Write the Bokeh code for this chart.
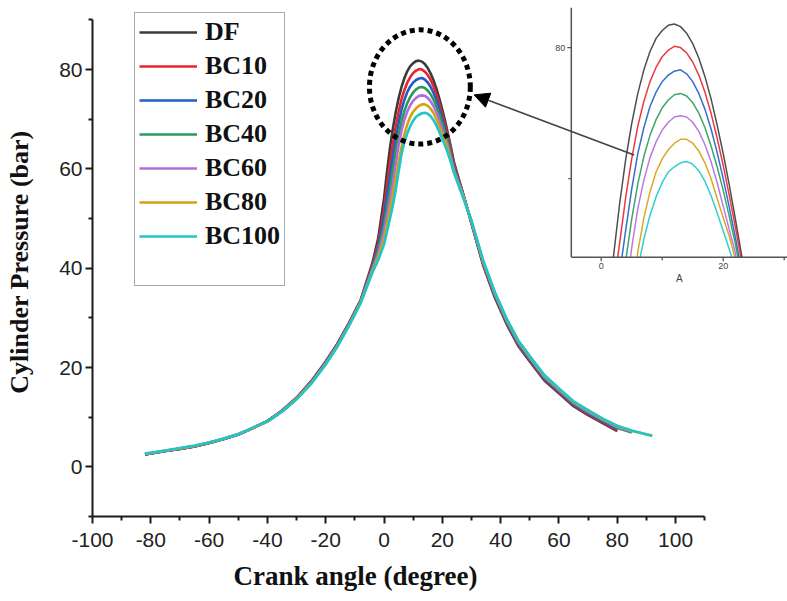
import numpy as np
from bokeh.plotting import figure
from bokeh.models import (Range1d, FixedTicker, Legend, LegendItem, Arrow,
                          NormalHead, Title)
from bokeh.core.properties import value
from bokeh.embed import file_html
from bokeh.resources import INLINE

# Crank angle grid (degrees), shared by all fuels
ANGLE = ([-82, -75, -70, -65, -60, -55, -50, -45, -40, -35, -30, -25, -20, -16, -12, -8, -4, -2]
         + list(range(0, 25))
         + [27, 30, 34, 38, 42, 46, 50, 55, 60, 65, 70, 75, 80, 85, 92])

NAMES = ["DF", "BC10", "BC20", "BC40", "BC60", "BC80", "BC100"]

# Cylinder pressure (bar) per fuel
DF = [2.5, 3.2, 3.6, 4.1, 4.8, 5.6, 6.5, 7.8, 9.2, 11.3, 13.9, 17.2, 21.2, 24.8, 29.0, 33.6, 41.0, 46.0,
      54.0, 59.3, 64.0, 68.0, 71.4, 74.2, 76.5, 78.3, 79.7, 80.7, 81.3, 81.7, 81.8, 81.6, 81.1, 80.3,
      79.2, 77.8, 76.1, 74.1, 71.9, 69.5, 66.9, 64.2, 61.3,
      55.2, 49.0, 40.6, 34.1, 28.8, 24.4, 21.2, 17.4, 14.8, 12.2, 10.4, 8.8, 7.2]
BC10 = [2.5, 3.2, 3.6, 4.1, 4.8, 5.6, 6.5, 7.8, 9.2, 11.3, 13.9, 17.2, 21.1, 24.7, 28.9, 33.5, 40.6, 45.0,
        52.0, 56.5, 61.0, 65.0, 68.5, 71.5, 74.0, 75.9, 77.4, 78.5, 79.3, 79.8, 80.1, 80.0, 79.6, 78.9,
        77.9, 76.6, 75.0, 73.1, 71.0, 68.7, 66.3, 63.7, 60.9,
        55.2, 49.1, 40.8, 34.3, 29.0, 24.6, 21.4, 17.6, 15.0, 12.4, 10.6, 9.0, 7.4]
BC20 = [2.5, 3.2, 3.6, 4.1, 4.8, 5.6, 6.5, 7.8, 9.2, 11.3, 13.8, 17.1, 21.0, 24.6, 28.8, 33.4, 40.3, 44.2,
        50.3, 54.3, 58.3, 62.3, 66.0, 69.2, 71.9, 73.9, 75.5, 76.6, 77.4, 77.9, 78.2, 78.3, 78.0, 77.4,
        76.5, 75.3, 73.8, 72.0, 70.0, 67.8, 65.5, 63.0, 60.4,
        55.1, 49.2, 41.0, 34.5, 29.2, 24.8, 21.6, 17.8, 15.2, 12.6, 10.8, 9.2, 7.6]
BC40 = [2.6, 3.2, 3.7, 4.2, 4.8, 5.6, 6.5, 7.8, 9.2, 11.2, 13.8, 17.0, 20.9, 24.5, 28.7, 33.3, 40.0, 43.5,
        48.7, 52.2, 55.8, 59.7, 63.6, 66.9, 69.6, 71.7, 73.3, 74.5, 75.4, 76.0, 76.4, 76.5, 76.3, 75.8,
        75.0, 73.9, 72.5, 70.9, 69.1, 67.1, 65.0, 62.6, 60.0,
        55.0, 49.3, 41.2, 34.7, 29.4, 25.0, 21.8, 18.0, 15.4, 12.8, 11.0, 9.4, 7.8, 6.9]
BC60 = [2.6, 3.2, 3.7, 4.2, 4.9, 5.6, 6.5, 7.8, 9.1, 11.2, 13.7, 16.9, 20.8, 24.4, 28.6, 33.2, 39.7, 42.8,
        47.3, 50.4, 53.6, 57.0, 60.8, 64.7, 67.7, 69.9, 71.6, 72.8, 73.7, 74.3, 74.7, 74.8, 74.7, 74.3,
        73.6, 72.6, 71.3, 69.7, 67.9, 66.1, 64.3, 61.9, 59.6,
        54.9, 49.4, 41.3, 34.9, 29.6, 25.2, 22.0, 18.2, 15.5, 13.0, 11.1, 9.5, 8.0, 7.1]
BC80 = [2.6, 3.3, 3.7, 4.2, 4.9, 5.7, 6.6, 7.8, 9.1, 11.1, 13.7, 16.8, 20.7, 24.3, 28.5, 33.1, 39.4, 42.2,
        46.0, 48.8, 51.7, 54.8, 58.0, 61.4, 64.4, 67.0, 69.0, 70.5, 71.5, 72.2, 72.7, 73.0, 73.0, 72.7,
        72.1, 71.2, 70.0, 68.5, 67.0, 65.6, 63.8, 61.6, 59.3,
        54.7, 49.5, 41.4, 35.1, 29.8, 25.4, 22.2, 18.4, 15.7, 13.1, 11.3, 9.6, 8.2, 7.2, 6.3]
BC100 = [2.7, 3.3, 3.8, 4.3, 4.9, 5.7, 6.6, 7.9, 9.1, 11.1, 13.6, 16.7, 20.6, 24.2, 28.4, 33.0, 39.1, 41.6,
         44.8, 47.3, 49.9, 52.6, 55.7, 59.4, 63.0, 65.4, 67.2, 68.6, 69.7, 70.5, 70.9, 71.2, 71.3, 71.1,
         70.6, 69.8, 68.7, 67.4, 66.0, 64.6, 63.0, 61.2, 59.2,
         54.4, 49.6, 41.6, 35.2, 29.9, 25.5, 22.3, 18.5, 15.8, 13.2, 11.4, 9.7, 8.3, 7.3, 6.2]
SERIES = [DF, BC10, BC20, BC40, BC60, BC80, BC100]

COLORS = ["#3b3b3b", "#e8242c", "#1f5fc4", "#2a9a5a", "#b36be0", "#d4a10f", "#1ec6c9"]

# Main axis ticks
X_TICKS = [-100, -80, -60, -40, -20, 0, 20, 40, 60, 80, 100]
X_TICK_LABELS = ["-100", "-80", "-60", "-40", "-20", "0", "20", "40", "60", "80", "100"]
X_MINOR = [-90, -70, -50, -30, -10, 10, 30, 50, 70, 90, 110]
Y_TICKS = [0, 20, 40, 60, 80]
Y_TICK_LABELS = ["0", "20", "40", "60", "80"]
Y_MINOR = [-10, 10, 30, 50, 70, 90]

# Zoomed inset: its floor pressure and where each curve crosses it
INSET_FLOOR = 64.0
INSET_RISE_AT = [2.0, 2.7, 3.4, 4.1, 4.8, 5.9, 6.4]
INSET_FALL_AT = [23.1, 22.9, 22.6, 22.4, 22.1, 21.9, 21.4]
INSET_X_TICKS = [0, 20]
INSET_X_TICK_LABELS = ["0", "20"]
INSET_X_MINOR = [10, 30]
INSET_Y_TICKS = [80]
INSET_Y_TICK_LABELS = ["80"]
INSET_Y_MINOR = [70]
INSET_X_TITLE = "A"

# ---- layout constants (pixels / data extents) ----
FRAME_LEFT, FRAME_TOP, FRAME_BOTTOM = 92, 7, 85
W, H = 787, 601
X_RANGE = (-100, 138.4)
Y_RANGE = (-10, 92.5)
INSET_X_RANGE = (-83.39, 30.54)
INSET_Y_RANGE = (44.2, 83.06)
INSET_AXIS_U = -4.9

p = figure(width=W, height=H, x_range=Range1d(*X_RANGE), y_range=Range1d(*Y_RANGE),
           output_backend="svg", toolbar_location=None,
           min_border_left=FRAME_LEFT, min_border_right=0,
           min_border_top=FRAME_TOP, min_border_bottom=FRAME_BOTTOM)
p.title.visible = False
p.outline_line_color = None
p.xgrid.visible = False
p.ygrid.visible = False
p.background_fill_color = "white"
p.border_fill_color = "white"

AXIS_COLOR = "#1a1a1a"
for ax in (p.xaxis[0], p.yaxis[0]):
    ax.axis_line_width = 2
    ax.axis_line_color = AXIS_COLOR
    ax.major_tick_line_width = 2
    ax.minor_tick_line_width = 2
    ax.major_tick_line_color = AXIS_COLOR
    ax.minor_tick_line_color = AXIS_COLOR
    ax.major_tick_in = 0
    ax.minor_tick_in = 0
    ax.major_tick_out = 7
    ax.minor_tick_out = 4
    ax.major_label_text_font = "Liberation Sans"
    ax.major_label_text_font_size = "21px"
    ax.major_label_text_color = "#222222"

p.xaxis.ticker = FixedTicker(ticks=X_TICKS, minor_ticks=X_MINOR)
p.xaxis.major_label_overrides = dict(zip(X_TICKS, X_TICK_LABELS))
p.xaxis.bounds = (-100, 110)
p.xaxis.major_label_standoff = 9

p.yaxis.ticker = FixedTicker(ticks=Y_TICKS, minor_ticks=Y_MINOR)
p.yaxis.major_label_overrides = dict(zip(Y_TICKS, Y_TICK_LABELS))
p.yaxis.bounds = (-10, 90)
p.yaxis.major_label_standoff = 3
p.yaxis.axis_label = "Cylinder Pressure (bar)"
p.yaxis.axis_label_text_font = "Liberation Serif"
p.yaxis.axis_label_text_font_style = "bold"
p.yaxis.axis_label_text_font_size = "26px"
p.yaxis.axis_label_text_color = "#111111"
p.yaxis.axis_label_standoff = 22

x_title = Title(text="Crank angle (degree)", align="left", offset=141, standoff=19,
                text_font="Liberation Serif", text_font_style="bold",
                text_font_size="27px", text_color="#111111")
p.add_layout(x_title, "below")

# ---- main pressure traces ----
renderers = []
for name, vals, col in zip(NAMES, SERIES, COLORS):
    r = p.line(ANGLE[:len(vals)], vals, line_color=col, line_width=2.6, line_join="round")
    renderers.append(r)

# highlight around the peak
PEAK_FOCUS = (12.3, 76.5)
p.ellipse(x=[PEAK_FOCUS[0]], y=[PEAK_FOCUS[1]], width=34.6, height=23.0,
          fill_alpha=0, line_color="black", line_width=5, line_dash="5 4")

p.add_layout(Arrow(end=NormalHead(size=15, fill_color="black", line_color="black"),
                   x_start=85.8, y_start=62.8, x_end=30.9, y_end=74.9,
                   line_width=1.6, line_color="#444444"))

# ---- inset: zoom on the peak region ----
p.extra_x_ranges = {"ix": Range1d(*INSET_X_RANGE)}
p.extra_y_ranges = {"iy": Range1d(*INSET_Y_RANGE)}
inset_kw = dict(x_range_name="ix", y_range_name="iy")

for vals, col, lo, hi in zip(SERIES, COLORS, INSET_RISE_AT, INSET_FALL_AT):
    xs = [lo] + [a for a, v in zip(ANGLE, vals) if lo < a < hi] + [hi]
    ys = [INSET_FLOOR] + [v for a, v in zip(ANGLE, vals) if lo < a < hi] + [INSET_FLOOR]
    p.line(xs, ys, line_color=col, line_width=1.5, line_alpha=0.9, **inset_kw)

INSET_AXIS_COLOR = "#555555"
p.segment(x0=[INSET_AXIS_U, INSET_AXIS_U], y0=[INSET_FLOOR, INSET_FLOOR],
          x1=[INSET_AXIS_U, INSET_X_RANGE[1]], y1=[INSET_Y_RANGE[1], INSET_FLOOR],
          line_color=INSET_AXIS_COLOR, line_width=1.5, **inset_kw)
p.ray(x=INSET_X_TICKS, y=[INSET_FLOOR] * len(INSET_X_TICKS), length=4, length_units="screen",
      angle=-np.pi / 2, line_color=INSET_AXIS_COLOR, line_width=1.3, **inset_kw)
p.ray(x=INSET_X_MINOR, y=[INSET_FLOOR] * len(INSET_X_MINOR), length=3, length_units="screen",
      angle=-np.pi / 2, line_color=INSET_AXIS_COLOR, line_width=1.3, **inset_kw)
p.ray(x=[INSET_AXIS_U] * len(INSET_Y_TICKS), y=INSET_Y_TICKS, length=4, length_units="screen",
      angle=np.pi, line_color=INSET_AXIS_COLOR, line_width=1.3, **inset_kw)
p.ray(x=[INSET_AXIS_U] * len(INSET_Y_MINOR), y=INSET_Y_MINOR, length=3, length_units="screen",
      angle=np.pi, line_color=INSET_AXIS_COLOR, line_width=1.3, **inset_kw)

p.text(x=INSET_X_TICKS, y=[INSET_FLOOR] * len(INSET_X_TICKS), text=INSET_X_TICK_LABELS,
       text_align="center", text_baseline="top", y_offset=6,
       text_font=value("Liberation Sans"), text_font_size="9px", text_color="#444444", **inset_kw)
p.text(x=[INSET_AXIS_U] * len(INSET_Y_TICKS), y=INSET_Y_TICKS, text=INSET_Y_TICK_LABELS,
       text_align="right", text_baseline="middle", x_offset=-6,
       text_font=value("Liberation Sans"), text_font_size="9px", text_color="#444444", **inset_kw)
p.text(x=[(INSET_AXIS_U + INSET_X_RANGE[1]) / 2], y=[INSET_FLOOR], text=[INSET_X_TITLE],
       text_align="center", text_baseline="top", y_offset=16,
       text_font=value("Liberation Sans"), text_font_size="10px", text_color="#444444", **inset_kw)

# ---- legend ----
spacer = p.line(x=[], y=[], line_alpha=0)
items = [LegendItem(label=n, renderers=[r]) for n, r in zip(NAMES, renderers)]
items.append(LegendItem(label=" ", renderers=[spacer]))
legend = Legend(items=items, location=(42, 230), margin=0, padding=4, spacing=4,
                label_height=26, glyph_height=26, glyph_width=58, label_standoff=8,
                label_text_font="Liberation Serif", label_text_font_style="bold",
                label_text_font_size="26px", label_text_color="#111111",
                border_line_color="#555555", border_line_width=1.5,
                background_fill_color="white", background_fill_alpha=1)
p.add_layout(legend)

open("out.html", "w").write(file_html(p, INLINE))
